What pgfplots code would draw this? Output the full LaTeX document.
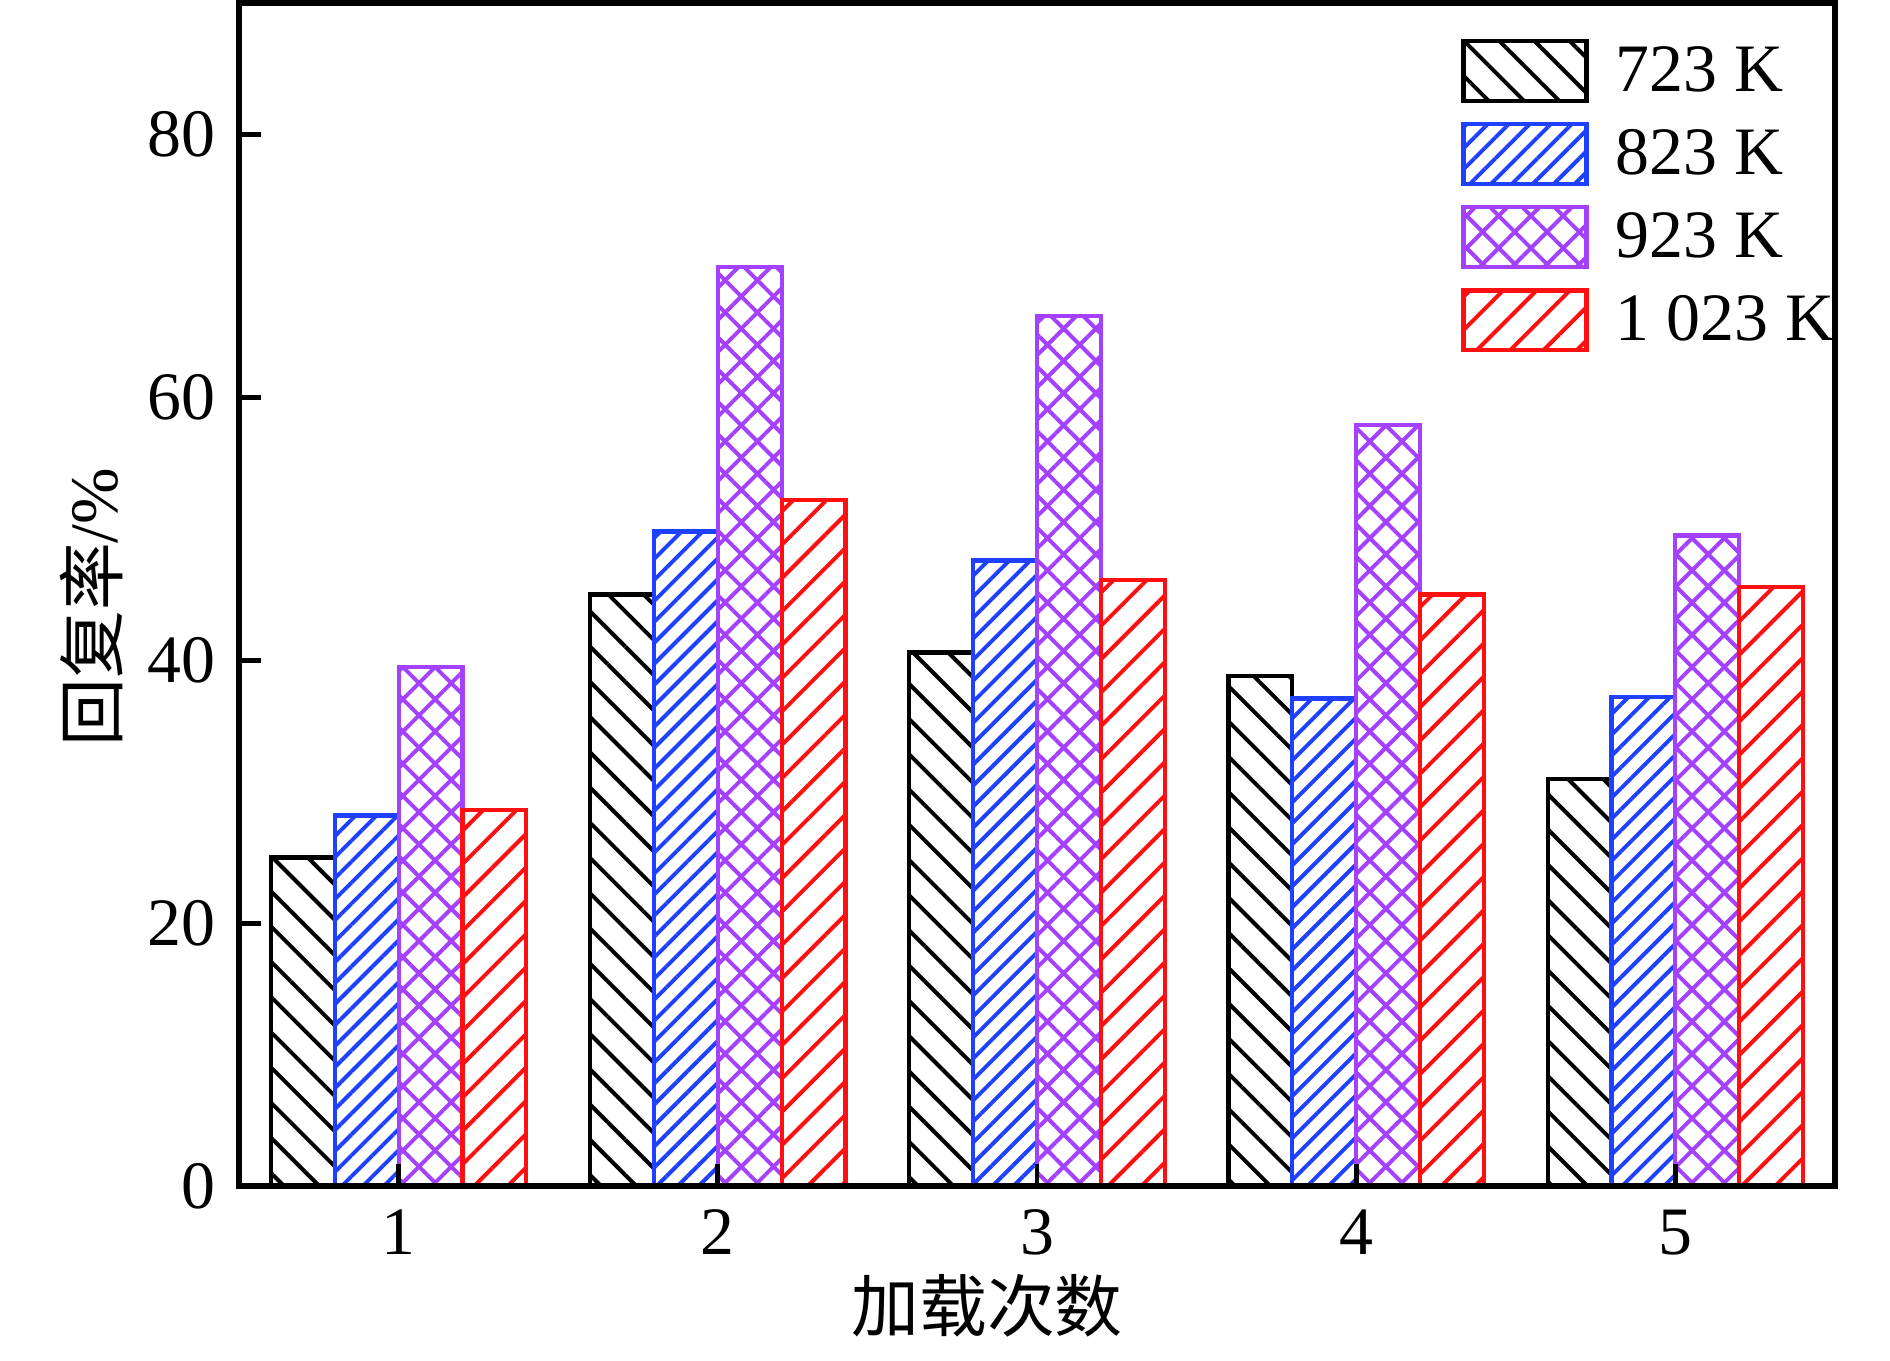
\documentclass[border=0pt]{standalone}
\usepackage{fontspec}
\setmainfont{Liberation Serif}
\newfontfamily\cjk{Noto Sans CJK SC}
\usepackage{pgfplots}
\pgfplotsset{compat=1.18}
\usetikzlibrary{patterns.meta}
\definecolor{cblue}{RGB}{31,64,255}
\definecolor{cpurple}{RGB}{163,65,255}
\definecolor{cred}{RGB}{255,15,15}
\pgfplotsset{boxleg/.style={legend image code/.code={\draw[##1] (0pt,-5.65pt) rectangle (23.2pt,5.65pt);}}}
\begin{document}
\fontsize{12.8}{15.4}\selectfont
\begin{tikzpicture}
\begin{axis}[
 scale only axis, width=301.1pt, height=223.2pt,
 xmin=0.5, xmax=5.5, ymin=0, ymax=90,
 ybar=0pt, bar width=0.2,
 xtick={1,2,3,4,5}, ytick={0,20,40,60,80},
 tick align=inside, xtick pos=bottom, ytick pos=left,
 major tick length=4.2pt, minor tick num=0,
 axis line style={line width=1pt},
 every tick/.style={black,line width=0.9pt},
 axis on top,
 /pgf/number format/assume math mode=true,
 xlabel={\cjk 加载次数}, ylabel={{\cjk 回复率}/\%},
 xlabel style={at={(axis description cs:0.4687,-0.1014)},anchor=center},
 ylabel style={at={(axis description cs:-0.0924,0.4894)},anchor=center},
 legend style={at={(axis description cs:0.766,0.970)}, anchor=north west, draw=none, fill=none, inner sep=0pt, outer sep=0pt, row sep=3.6pt, column sep=4.6pt, nodes={inner sep=0.5pt, text height=9pt, text depth=1.3pt}},
 legend cell align=left,
]
\addplot[draw=black, line width=0.8pt, pattern={Lines[angle=-45,distance=4.7pt,line width=0.75pt]}, pattern color=black, boxleg]
 coordinates {(1,25.0) (2,45.0) (3,40.6) (4,38.8) (5,31.0)};
\addplot[draw=cblue, line width=0.8pt, pattern={Lines[angle=45,distance=2.8pt,line width=0.75pt]}, pattern color=cblue, boxleg]
 coordinates {(1,28.2) (2,49.8) (3,47.6) (4,37.1) (5,37.2)};
\addplot[draw=cpurple, line width=0.8pt, pattern={Lines[angle=45,distance=4.3pt,line width=0.75pt]}, pattern color=cpurple, postaction={pattern={Lines[angle=-45,distance=4.3pt,line width=0.75pt]}, pattern color=cpurple}, boxleg]
 coordinates {(1,39.5) (2,69.9) (3,66.2) (4,57.9) (5,49.5)};
\addplot[draw=cred, line width=0.8pt, pattern={Lines[angle=45,distance=4.45pt,line width=0.75pt]}, pattern color=cred, boxleg]
 coordinates {(1,28.6) (2,52.2) (3,46.1) (4,45.0) (5,45.6)};
\legend{723 K, 823 K, 923 K, 1 023 K}
\end{axis}
\path ([shift={(-45.1pt,-30.6pt)}]current axis.south west) rectangle ([shift={(10.4pt,0.6pt)}]current axis.north east);
\end{tikzpicture}
\end{document}
